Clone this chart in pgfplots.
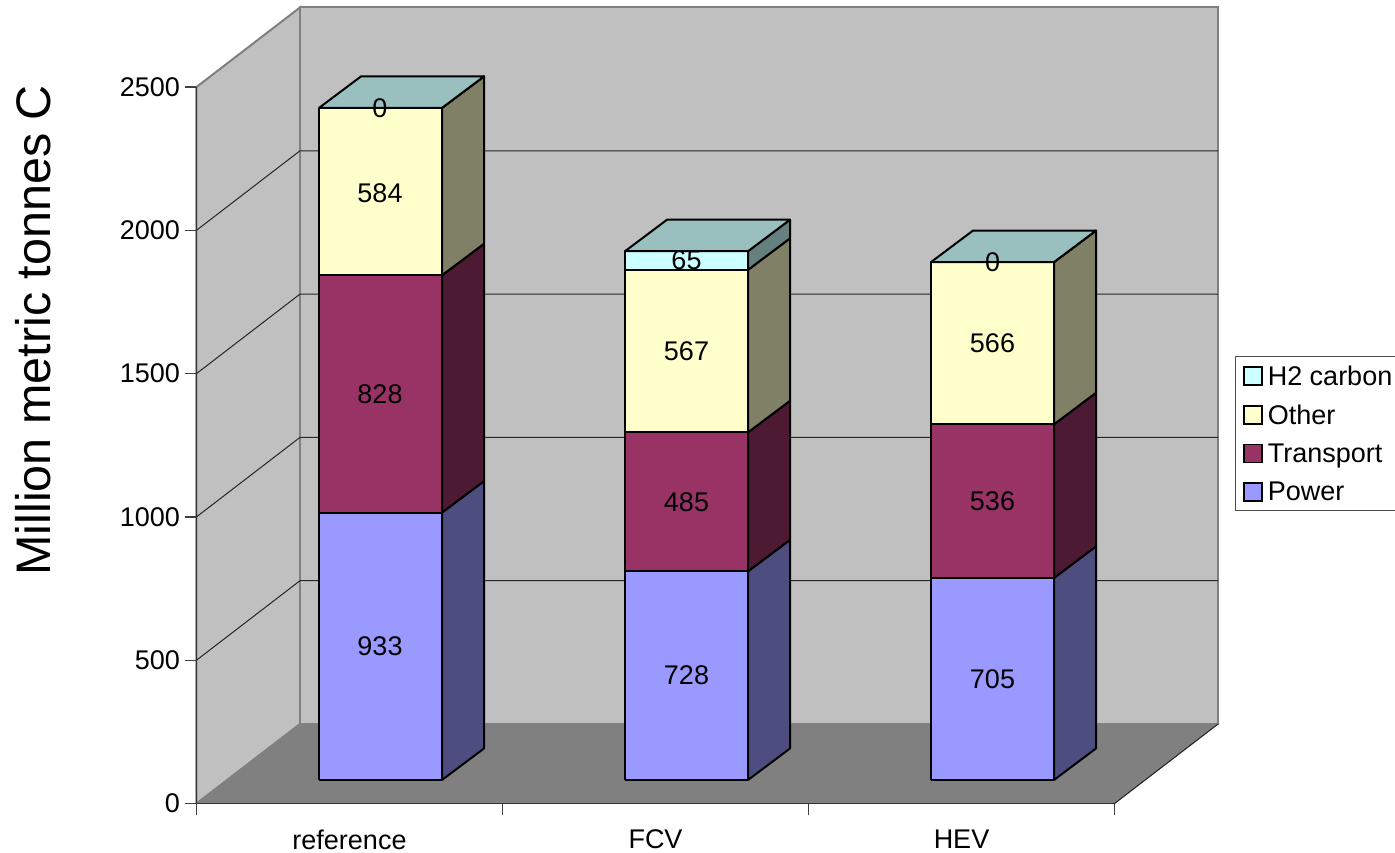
\documentclass[border=0pt]{standalone}
\usepackage{pgfplots}
\pgfplotsset{compat=1.18}
\usepackage{fontspec}
\setmainfont{Liberation Sans}
\definecolor{cP}{HTML}{9999FF}\definecolor{cPs}{HTML}{4D4D80}
\definecolor{cT}{HTML}{993366}\definecolor{cTs}{HTML}{4D1A33}
\definecolor{cO}{HTML}{FFFFCC}\definecolor{cOs}{HTML}{808066}
\definecolor{cH}{HTML}{CCFFFF}\definecolor{cHs}{HTML}{668080}\definecolor{cHt}{HTML}{99BFBF}
\definecolor{wall}{HTML}{C0C0C0}\definecolor{floorc}{HTML}{808080}
\newcommand\fs[1]{\fontsize{#1}{#1}\selectfont}
% one stacked segment: left x, cumulative from, cumulative to, front colour, side colour
\newcommand\seg[5]{%
 \pgfmathsetmacro\xa{#1+123}\pgfmathsetmacro\xb{#1+165}%
 \pgfmathsetmacro\ya{#2+82}\pgfmathsetmacro\yb{#3+82}%
 \pgfmathsetmacro\yc{#2+192}\pgfmathsetmacro\yd{#3+192}%
 \edef\tmp{\noexpand\addplot[forget plot,fill=#4,draw=black,line width=2pt,line join=round] coordinates {(#1,\ya)(\xa,\ya)(\xa,\yb)(#1,\yb)(#1,\ya)};
 \noexpand\addplot[forget plot,fill=#5,draw=black,line width=2pt,line join=round] coordinates {(\xa,\ya)(\xb,\yc)(\xb,\yd)(\xa,\yb)(\xa,\ya)};}\tmp}
\newcommand\topf[2]{%
 \pgfmathsetmacro\xa{#1+123}\pgfmathsetmacro\xb{#1+165}\pgfmathsetmacro\xc{#1+42}%
 \pgfmathsetmacro\yb{#2+82}\pgfmathsetmacro\yd{#2+192}%
 \edef\tmp{\noexpand\addplot[forget plot,fill=cHt,draw=black,line width=2pt,line join=round] coordinates {(#1,\yb)(\xa,\yb)(\xb,\yd)(\xc,\yd)(#1,\yb)};}\tmp}
\begin{document}
\begin{tikzpicture}
\path[use as bounding box] (0,0) rectangle (1395pt,853pt);
\begin{axis}[
 at={(196.5pt,49.5pt)},anchor=south west,scale only axis,
 width=918pt,height=716.5pt,
 xmin=196.5,xmax=1114.5,ymin=0,ymax=2500,clip=false,
 axis on top=true,
 axis lines=left,axis line style={-,draw=black!80,line width=1.4pt},
 xtick={196.5,502.5,808.5,1114.5},xticklabels={reference,FCV,HEV},x tick label as interval,
 ytick={0,500,...,2500},
 tick align=outside,major tick length=12pt,
 tick style={draw=black!75,line width=1.3pt},
 tick label style={font=\fs{27}},
 /pgf/number format/assume math mode=true,
 /pgf/number format/1000 sep={},
 x tick label style={yshift=-11pt},
 y tick label style={xshift=-1pt},
 ylabel={Million metric tonnes C},
 every axis y label/.style={at={(axis cs:33,1651)},rotate=90,anchor=center,font=\fs{48.5}},
 legend style={at={(axis cs:1234.5,1562)},anchor=north west,draw=black!70,line width=1.3pt,
   font=\fs{27},inner xsep=8pt,inner ysep=7pt,row sep=14pt,cells={anchor=west},fill=white},
 legend image code/.code={\draw[#1] (0pt,-9pt) rectangle (18pt,9pt);\path (21pt,0pt);},
 legend cell align=left,
]
\addlegendimage{fill=cH,draw=black,line width=1.6pt}
\addlegendimage{fill=cO,draw=black,line width=1.6pt}
\addlegendimage{fill=cT,draw=black,line width=1.6pt}
\addlegendimage{fill=cP,draw=black,line width=1.6pt}
\addlegendentry{H2 carbon}
\addlegendentry{Other}
\addlegendentry{Transport}
\addlegendentry{Power}
% walls and floor
\addplot[forget plot,fill=wall,draw=floorc,line width=2pt] coordinates {(196.5,0)(300,277.4)(300,2777.4)(196.5,2500)(196.5,0)};
\addplot[forget plot,fill=wall,draw=floorc,line width=2pt] coordinates {(300,277.4)(1218,277.4)(1218,2777.4)(300,2777.4)(300,277.4)};
\addplot[forget plot,fill=floorc,draw=floorc,line width=1pt] coordinates {(196.5,0)(1114.5,0)(1218,277.4)(300,277.4)(196.5,0)};
\addplot[forget plot,draw=black!85,line width=1pt] coordinates {(1114.5,0)(1218,277.4)};
% gridlines
\addplot[forget plot,draw=black!85,line width=1pt] coordinates {(196.5,500)(300,777.4)(1218,777.4)};
\addplot[forget plot,draw=black!85,line width=1pt] coordinates {(196.5,1000)(300,1277.4)(1218,1277.4)};
\addplot[forget plot,draw=black!85,line width=1pt] coordinates {(196.5,1500)(300,1777.4)(1218,1777.4)};
\addplot[forget plot,draw=black!85,line width=1pt] coordinates {(196.5,2000)(300,2277.4)(1218,2277.4)};
% bars
\seg{319}{0}{933}{cP}{cPs}\seg{319}{933}{1761}{cT}{cTs}\seg{319}{1761}{2345}{cO}{cOs}\seg{319}{2345}{2345}{cH}{cHs}\topf{319}{2345}
\seg{625}{0}{728}{cP}{cPs}\seg{625}{728}{1213}{cT}{cTs}\seg{625}{1213}{1780}{cO}{cOs}\seg{625}{1780}{1845}{cH}{cHs}\topf{625}{1845}
\seg{931}{0}{705}{cP}{cPs}\seg{931}{705}{1241}{cT}{cTs}\seg{931}{1241}{1807}{cO}{cOs}\seg{931}{1807}{1807}{cH}{cHs}\topf{931}{1807}
% data labels
\addplot[forget plot,draw=none,mark=none,nodes near coords,point meta=explicit symbolic,
 every node near coord/.style={anchor=center,font=\fs{27},text=black,inner sep=0pt}]
 table[meta=l] {
x y l
380 548 933
380 1429 828
380 2128 584
380 2427 0
686.5 446 728
686.5 1052 485
686.5 1578 567
686.5 1894 65
992.5 434 705
992.5 1055 536
992.5 1606 566
992.5 1889 0
};
\end{axis}
\end{tikzpicture}
\end{document}
